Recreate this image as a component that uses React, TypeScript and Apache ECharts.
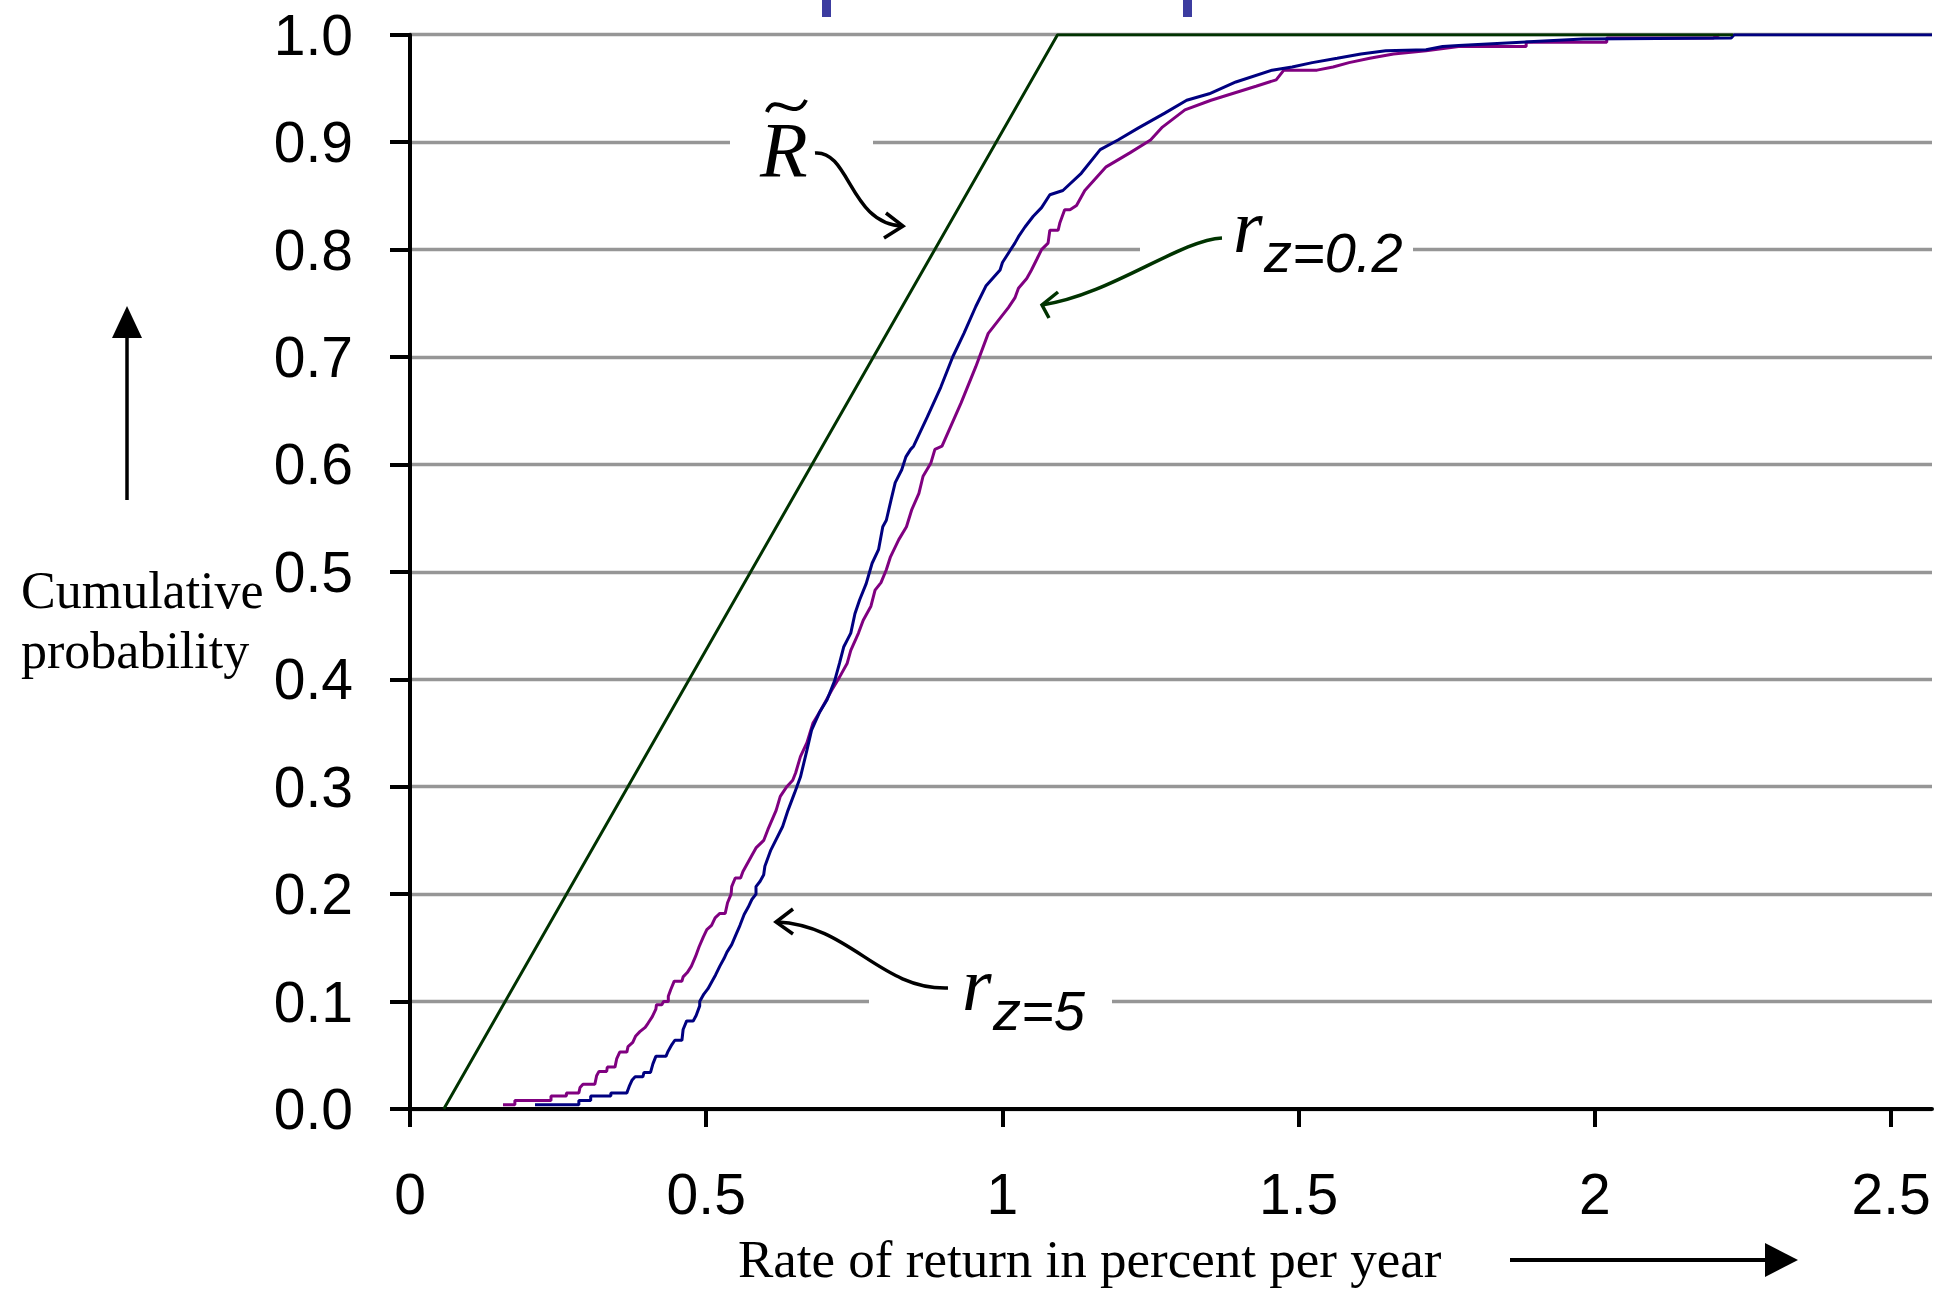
import React, { useEffect, useRef } from "react";
import * as echarts from "echarts";

// ---- data ----
const xTickValues = [0, 0.5, 1, 1.5, 2, 2.5];
const xAxisMax = 2.569;

// R~ (straight line distribution)
const rTildeX = [0.057, 1.093, 2.233];
const rTildeY = [0, 1, 1];

// r_z=5 (blue)
const rz5X = [
  0.211, 0.285, 0.285, 0.305, 0.305, 0.339, 0.339, 0.366, 0.37, 0.375, 0.38, 0.393, 0.395, 0.406,
  0.41, 0.415, 0.432, 0.435, 0.442, 0.447, 0.459, 0.461, 0.467, 0.478, 0.483, 0.489, 0.489, 0.496,
  0.503, 0.509, 0.516, 0.523, 0.53, 0.535, 0.543, 0.55, 0.557, 0.564, 0.571, 0.577, 0.584, 0.584,
  0.591, 0.597, 0.599, 0.609, 0.629, 0.638, 0.649, 0.659, 0.67, 0.678, 0.691, 0.704, 0.717, 0.725,
  0.732, 0.744, 0.751, 0.759, 0.77, 0.78, 0.791, 0.798, 0.804, 0.812, 0.819, 0.83, 0.837, 0.845,
  0.85, 0.873, 0.896, 0.916, 0.935, 0.955, 0.972, 0.996, 1.0, 1.007, 1.014, 1.021, 1.027, 1.038,
  1.052, 1.066, 1.08, 1.102, 1.133, 1.165, 1.195, 1.229, 1.274, 1.311, 1.349, 1.394, 1.455, 1.489,
  1.523, 1.565, 1.605, 1.647, 1.715, 1.743, 1.77, 1.98, 2.23, 2.235, 2.569,
];
const rz5Y = [
  0.004, 0.004, 0.008, 0.008, 0.012, 0.012, 0.015, 0.015, 0.021, 0.027, 0.03, 0.03, 0.034, 0.034,
  0.042, 0.049, 0.049, 0.053, 0.06, 0.064, 0.064, 0.074, 0.082, 0.082, 0.087, 0.096, 0.1, 0.107,
  0.112, 0.118, 0.125, 0.133, 0.14, 0.146, 0.153, 0.162, 0.171, 0.181, 0.188, 0.195, 0.2, 0.207,
  0.212, 0.218, 0.226, 0.241, 0.263, 0.278, 0.294, 0.309, 0.334, 0.353, 0.369, 0.381, 0.399, 0.415,
  0.43, 0.443, 0.461, 0.474, 0.489, 0.508, 0.521, 0.542, 0.548, 0.567, 0.583, 0.595, 0.607, 0.614,
  0.617, 0.644, 0.672, 0.7, 0.722, 0.747, 0.766, 0.781, 0.788, 0.794, 0.8, 0.806, 0.812, 0.821,
  0.831, 0.839, 0.851, 0.855, 0.871, 0.893, 0.902, 0.913, 0.927, 0.939, 0.945, 0.956, 0.967, 0.97,
  0.974, 0.978, 0.982, 0.985, 0.986, 0.989, 0.99, 0.996, 0.997, 1.0, 1.0,
];

// r_z=0.2 (purple)
const rz02X = [
  0.157, 0.177, 0.177, 0.238, 0.238, 0.264, 0.264, 0.285, 0.287, 0.292, 0.312, 0.315, 0.319, 0.332,
  0.333, 0.346, 0.349, 0.354, 0.366, 0.368, 0.376, 0.381, 0.388, 0.397, 0.402, 0.409, 0.415, 0.416,
  0.425, 0.428, 0.436, 0.436, 0.44, 0.446, 0.459, 0.461, 0.468, 0.475, 0.482, 0.488, 0.495, 0.501,
  0.509, 0.515, 0.523, 0.532, 0.536, 0.542, 0.543, 0.549, 0.558, 0.562, 0.576, 0.584, 0.597, 0.604,
  0.618, 0.625, 0.636, 0.646, 0.651, 0.659, 0.67, 0.68, 0.691, 0.7, 0.712, 0.725, 0.738, 0.744,
  0.757, 0.765, 0.778, 0.785, 0.795, 0.804, 0.811, 0.825, 0.838, 0.847, 0.859, 0.866, 0.879, 0.886,
  0.898, 0.93, 0.955, 0.976, 1.01, 1.021, 1.027, 1.041, 1.049, 1.058, 1.066, 1.077, 1.08, 1.094,
  1.097, 1.105, 1.114, 1.125, 1.139, 1.175, 1.215, 1.25, 1.27, 1.308, 1.352, 1.428, 1.462, 1.475,
  1.531, 1.558, 1.585, 1.62, 1.66, 1.715, 1.77, 1.884, 1.884, 2.02, 2.02, 2.2, 2.21,
];
const rz02Y = [
  0.004, 0.004, 0.008, 0.008, 0.012, 0.012, 0.015, 0.015, 0.02, 0.023, 0.023, 0.031, 0.035, 0.035,
  0.039, 0.039, 0.047, 0.053, 0.053, 0.058, 0.062, 0.068, 0.072, 0.076, 0.08, 0.086, 0.093, 0.097,
  0.097, 0.1, 0.1, 0.105, 0.111, 0.119, 0.119, 0.123, 0.127, 0.133, 0.142, 0.151, 0.16, 0.167,
  0.171, 0.178, 0.182, 0.182, 0.192, 0.2, 0.207, 0.215, 0.215, 0.221, 0.235, 0.243, 0.25, 0.26,
  0.278, 0.291, 0.3, 0.306, 0.313, 0.328, 0.341, 0.359, 0.369, 0.378, 0.39, 0.402, 0.415, 0.427,
  0.443, 0.455, 0.468, 0.483, 0.49, 0.502, 0.514, 0.53, 0.542, 0.558, 0.573, 0.589, 0.601, 0.614,
  0.617, 0.657, 0.691, 0.722, 0.746, 0.755, 0.764, 0.773, 0.781, 0.791, 0.8, 0.806, 0.818, 0.818,
  0.825, 0.837, 0.837, 0.841, 0.855, 0.877, 0.89, 0.902, 0.914, 0.93, 0.939, 0.952, 0.958, 0.967,
  0.967, 0.97, 0.974, 0.978, 0.982, 0.985, 0.989, 0.989, 0.993, 0.993, 0.997, 0.997, 1.0,
];

const zip = (xs: number[], ys: number[]) => xs.map((x, i) => [x, ys[i]]);

const SANS = "'Liberation Sans', Arial, sans-serif";
const SERIF = "'Liberation Serif', 'Times New Roman', serif";

const txt = (
  text: string,
  x: number,
  y: number,
  font: string,
  fill = "#000",
  align = "left"
) => ({
  type: "text",
  z: 110,
  style: {
    text,
    x,
    y,
    font,
    fill,
    align,
    textAlign: align,
    verticalAlign: "middle",
    textVerticalAlign: "middle",
  },
});

const whiteBox = (x1: number, x2: number, y1: number, y2: number) => ({
  type: "rect",
  z: 100,
  shape: { x: x1, y: y1, width: x2 - x1, height: y2 - y1 },
  style: { fill: "#fff" },
});

const curve = (
  x1: number,
  y1: number,
  cpx1: number,
  cpy1: number,
  cpx2: number,
  cpy2: number,
  x2: number,
  y2: number,
  stroke = "#000",
  lineWidth = 3.5
) => ({
  type: "bezierCurve",
  z: 110,
  shape: { x1, y1, cpx1, cpy1, cpx2, cpy2, x2, y2 },
  style: { stroke, lineWidth, fill: null },
});

const chevron = (pts: number[][], stroke = "#000") => ({
  type: "polyline",
  z: 110,
  shape: { points: pts },
  style: { stroke, lineWidth: 3.5, fill: null },
});

export default function App() {
  const ref = useRef<HTMLDivElement>(null);

  useEffect(() => {
    document.body.style.margin = "0";
    if (!ref.current) return;
    const chart = echarts.init(ref.current, undefined, { renderer: "svg" });

    const option: any = {
      animation: false,
      backgroundColor: "#ffffff",
      grid: { left: 410, top: 34.7, right: 20, bottom: 180, containLabel: false },
      xAxis: {
        type: "value",
        min: 0,
        max: xAxisMax,
        interval: 0.5,
        axisLine: { show: true, onZero: false, lineStyle: { color: "#000", width: 4 } },
        axisTick: {
          show: true,
          length: 18,
          customValues: xTickValues,
          lineStyle: { color: "#000", width: 4 },
        },
        axisLabel: {
          margin: 56,
          fontSize: 57,
          fontFamily: SANS,
          color: "#000",
          customValues: xTickValues,
          hideOverlap: false,
          formatter: (v: number) =>
            Math.abs(v * 2 - Math.round(v * 2)) < 1e-6 ? String(v) : "",
        },
        splitLine: { show: false },
      },
      yAxis: {
        type: "value",
        min: 0,
        max: 1,
        interval: 0.1,
        axisLine: { show: true, lineStyle: { color: "#000", width: 4 } },
        axisTick: { show: true, length: 20, lineStyle: { color: "#000", width: 4 } },
        axisLabel: {
          margin: 57,
          fontSize: 57,
          fontFamily: SANS,
          color: "#000",
          formatter: (v: number) => v.toFixed(1),
        },
        splitLine: { show: true, lineStyle: { color: "#969696", width: 3.3 } },
      },
      series: [
        {
          name: "r_z=0.2",
          type: "line",
          data: zip(rz02X, rz02Y),
          showSymbol: false,
          symbol: "none",
          lineStyle: { color: "#800080", width: 3 },
          z: 3,
        },
        {
          name: "r_z=5",
          type: "line",
          data: zip(rz5X, rz5Y),
          showSymbol: false,
          symbol: "none",
          lineStyle: { color: "#000080", width: 3 },
          z: 4,
        },
        {
          name: "R~",
          type: "line",
          data: zip(rTildeX, rTildeY),
          showSymbol: false,
          symbol: "none",
          lineStyle: { color: "#003300", width: 3 },
          z: 5,
        },
      ],
      graphic: [
        // top blue marks (cropped remnants)
        { type: "rect", z: 110, shape: { x: 822, y: 0, width: 9, height: 17 }, style: { fill: "#3c3ca0" } },
        { type: "rect", z: 110, shape: { x: 1183, y: 0, width: 9, height: 17 }, style: { fill: "#3c3ca0" } },
        // white text boxes breaking gridlines
        whiteBox(730, 873, 130, 154),
        whiteBox(1140, 1413, 238, 262),
        whiteBox(869, 1112, 989, 1013),
        // R~ label
        txt("R", 760, 149, `italic 78px ${SERIF}`),
        curve(767, 112, 775, 90, 795, 124, 806, 100, "#000", 4),
        curve(815, 153, 850, 150, 850, 225, 903, 226),
        chevron([[886, 213], [903, 226], [884, 238]]),
        // r_z=0.2 label
        txt("r", 1233, 226, `italic 76px ${SERIF}`),
        txt("z=0.2", 1264, 252, `italic 56px ${SANS}`),
        curve(1222, 238, 1180, 240, 1110, 295, 1042, 305, "#003300"),
        chevron([[1058, 292], [1042, 305], [1049, 318]], "#003300"),
        // r_z=5 label
        txt("r", 962, 984, `italic 76px ${SERIF}`),
        txt("z=5", 993, 1010, `italic 56px ${SANS}`),
        curve(948, 988, 880, 990, 850, 925, 777, 922),
        chevron([[793, 909], [776, 922], [793, 934]]),
        // y axis title
        txt("Cumulative", 21, 590, `52px ${SERIF}`),
        txt("probability", 21, 650, `52px ${SERIF}`),
        { type: "line", z: 110, shape: { x1: 127, y1: 500, x2: 127, y2: 334 }, style: { stroke: "#000", lineWidth: 3.5 } },
        { type: "polygon", z: 110, shape: { points: [[127, 306], [112, 338], [142, 338]] }, style: { fill: "#000" } },
        // x axis title
        txt("Rate of return in percent per year", 738, 1259, `53px ${SERIF}`),
        { type: "line", z: 110, shape: { x1: 1510, y1: 1260, x2: 1770, y2: 1260 }, style: { stroke: "#000", lineWidth: 4 } },
        { type: "polygon", z: 110, shape: { points: [[1798, 1260], [1765, 1243], [1765, 1277]] }, style: { fill: "#000" } },
      ],
    };

    chart.setOption(option);
    return () => chart.dispose();
  }, []);

  return <div ref={ref} style={{ width: 1952, height: 1289 }} />;
}
